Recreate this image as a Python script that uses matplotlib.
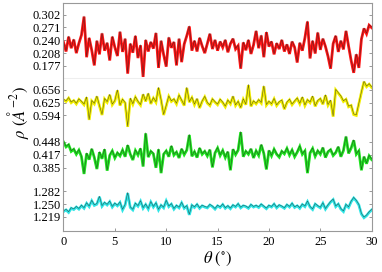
import numpy as np
import matplotlib
matplotlib.use("Agg")
import matplotlib.pyplot as plt

plt.rcParams['font.family'] = ['Liberation Serif', 'DejaVu Serif']
plt.rcParams['mathtext.fontset'] = 'stix'

# angle grid, 0.25 deg steps
theta = np.arange(121) * 0.25

rho_red = [0.235, 0.212, 0.248, 0.220, 0.241, 0.208, 0.232, 0.252,
           0.297, 0.198, 0.245, 0.215, 0.178, 0.238, 0.205, 0.256,
           0.214, 0.233, 0.190, 0.248, 0.222, 0.201, 0.260, 0.211,
           0.243, 0.158, 0.231, 0.209, 0.250, 0.196, 0.227, 0.150,
           0.240, 0.212, 0.235, 0.219, 0.257, 0.172, 0.238, 0.204,
           0.175, 0.246, 0.221, 0.235, 0.178, 0.243, 0.186, 0.230,
           0.250, 0.273, 0.214, 0.238, 0.212, 0.245, 0.225, 0.208,
           0.231, 0.255, 0.218, 0.240, 0.214, 0.236, 0.222, 0.240,
           0.210, 0.231, 0.243, 0.218, 0.226, 0.170, 0.234, 0.215,
           0.240, 0.206, 0.228, 0.262, 0.220, 0.251, 0.198, 0.259,
           0.224, 0.236, 0.205, 0.232, 0.218, 0.240, 0.212, 0.229,
           0.206, 0.236, 0.222, 0.185, 0.233, 0.214, 0.245, 0.285,
           0.195, 0.238, 0.207, 0.258, 0.216, 0.243, 0.224, 0.200,
           0.170, 0.231, 0.250, 0.211, 0.238, 0.217, 0.262, 0.225,
           0.190, 0.160, 0.205, 0.172, 0.242, 0.268, 0.255, 0.276,
           0.270]

rho_yellow = [0.632, 0.628, 0.636, 0.625, 0.630, 0.622, 0.633, 0.627,
              0.620, 0.638, 0.583, 0.629, 0.622, 0.640, 0.617, 0.595,
              0.634, 0.626, 0.644, 0.620, 0.629, 0.655, 0.618, 0.632,
              0.624, 0.566, 0.635, 0.621, 0.638, 0.627, 0.619, 0.645,
              0.628, 0.647, 0.622, 0.636, 0.626, 0.661, 0.631, 0.595,
              0.617, 0.640, 0.628, 0.633, 0.622, 0.642, 0.630, 0.618,
              0.661, 0.626, 0.637, 0.620, 0.634, 0.612, 0.628, 0.639,
              0.624, 0.618, 0.633, 0.626, 0.620, 0.632, 0.625, 0.615,
              0.630, 0.622, 0.640, 0.618, 0.627, 0.612, 0.633, 0.620,
              0.668, 0.616, 0.628, 0.622, 0.631, 0.624, 0.665, 0.619,
              0.627, 0.621, 0.634, 0.618, 0.626, 0.630, 0.609, 0.625,
              0.632, 0.620, 0.628, 0.635, 0.622, 0.638, 0.618, 0.631,
              0.625, 0.640, 0.616, 0.629, 0.634, 0.621, 0.643, 0.619,
              0.630, 0.591, 0.656, 0.648, 0.640, 0.628, 0.633, 0.615,
              0.618, 0.596, 0.594, 0.622, 0.650, 0.676, 0.664, 0.670,
              0.662]

rho_green = [0.448, 0.436, 0.441, 0.425, 0.430, 0.418, 0.428, 0.412,
             0.370, 0.420, 0.405, 0.431, 0.410, 0.382, 0.423, 0.407,
             0.430, 0.378, 0.415, 0.426, 0.409, 0.421, 0.414, 0.428,
             0.412, 0.440, 0.418, 0.404, 0.427, 0.416, 0.432, 0.388,
             0.469, 0.411, 0.425, 0.419, 0.385, 0.430, 0.372, 0.418,
             0.426, 0.412, 0.438, 0.416, 0.423, 0.409, 0.431, 0.417,
             0.428, 0.465, 0.413, 0.424, 0.410, 0.433, 0.418, 0.425,
             0.414, 0.429, 0.386, 0.421, 0.433, 0.415, 0.427, 0.410,
             0.424, 0.379, 0.430, 0.417, 0.428, 0.472, 0.412, 0.425,
             0.418, 0.431, 0.409, 0.426, 0.415, 0.441, 0.420, 0.381,
             0.427, 0.414, 0.430, 0.418, 0.411, 0.425, 0.419, 0.432,
             0.416, 0.428, 0.412, 0.423, 0.437, 0.418, 0.426, 0.372,
             0.421, 0.432, 0.413, 0.426, 0.418, 0.434, 0.410, 0.424,
             0.429, 0.415, 0.422, 0.436, 0.412, 0.427, 0.461, 0.420,
             0.433, 0.452, 0.418, 0.426, 0.379, 0.412, 0.395, 0.414,
             0.405]

rho_cyan = [1.232, 1.236, 1.230, 1.240, 1.237, 1.243, 1.238, 1.246,
            1.240, 1.252, 1.244, 1.258, 1.247, 1.250, 1.268, 1.245,
            1.253, 1.248, 1.256, 1.243, 1.251, 1.246, 1.254, 1.236,
            1.248, 1.277, 1.242, 1.236, 1.251, 1.245, 1.257, 1.240,
            1.249, 1.238, 1.255, 1.243, 1.252, 1.236, 1.247, 1.241,
            1.258, 1.244, 1.250, 1.238, 1.246, 1.241, 1.253, 1.240,
            1.245, 1.224, 1.247, 1.242, 1.249, 1.240, 1.246, 1.243,
            1.241, 1.248, 1.244, 1.238, 1.246, 1.242, 1.249, 1.240,
            1.245, 1.239, 1.247, 1.243, 1.250, 1.241, 1.246, 1.244,
            1.240, 1.248, 1.243, 1.246, 1.242, 1.249, 1.244, 1.239,
            1.246, 1.243, 1.250, 1.241, 1.247, 1.244, 1.240, 1.248,
            1.243, 1.251, 1.242, 1.246, 1.240, 1.249, 1.244, 1.256,
            1.243, 1.237, 1.250, 1.245, 1.241, 1.252, 1.238, 1.247,
            1.255, 1.261, 1.244, 1.250, 1.238, 1.232, 1.248, 1.242,
            1.256, 1.265, 1.258, 1.248, 1.226, 1.217, 1.222, 1.230,
            1.236]

ticks_red = [0.177, 0.208, 0.240, 0.271, 0.302]
ticks_yellow = [0.594, 0.625, 0.656]
ticks_green = [0.385, 0.417, 0.448]
ticks_cyan = [1.219, 1.250, 1.282]

# vertical shift of each trace so they stack in one axes
series = [
    (rho_red, ticks_red, 0.0, '#ff1414'),
    (rho_yellow, ticks_yellow, -0.5379, '#f2ee00'),
    (rho_green, ticks_green, -0.4567, '#1ee41e'),
    (rho_cyan, ticks_cyan, -1.4104, '#2ee6e6'),
]

fig = plt.figure(figsize=(3.82, 2.72), dpi=100)
ax = fig.add_axes([0.1662, 0.1518, 0.8068, 0.839])

ytick_pos = []
ytick_lab = []
for vals, tks, off, col in series:
    y = np.array(vals) + off
    ax.plot(theta, y, color=col, lw=2.0, solid_joinstyle='miter')
    ax.plot(theta, y + 0.0015, color='#222222', lw=0.4, alpha=0.7)
    for t in tks:
        ytick_pos.append(t + off)
        ytick_lab.append('%.3f' % t)

ax.axhline(0.1474, color='#eeeeee', lw=0.8, zorder=0)

ax.set_xlim(0, 30)
ax.set_ylim(-0.2251, 0.3315)
ax.set_xticks([0, 5, 10, 15, 20, 25, 30])
ax.set_yticks(ytick_pos)
ax.set_yticklabels(ytick_lab)
ax.tick_params(direction='in', length=2.5, width=0.6, color='#888888',
               labelsize=9, right=True, pad=2)
ax.tick_params(axis='x', pad=4)
for sp in ax.spines.values():
    sp.set_color('#999999')
    sp.set_linewidth(0.8)

ax.set_xlabel(r'$\theta\ (^{\circ})$', fontsize=12)
ax.set_ylabel(r'$\rho\ (\AA^{-2})$', fontsize=12)
ax.xaxis.set_label_coords(0.5, -0.085)
ax.yaxis.set_label_coords(-0.105, 0.52)

plt.savefig('out.png', dpi=100)
